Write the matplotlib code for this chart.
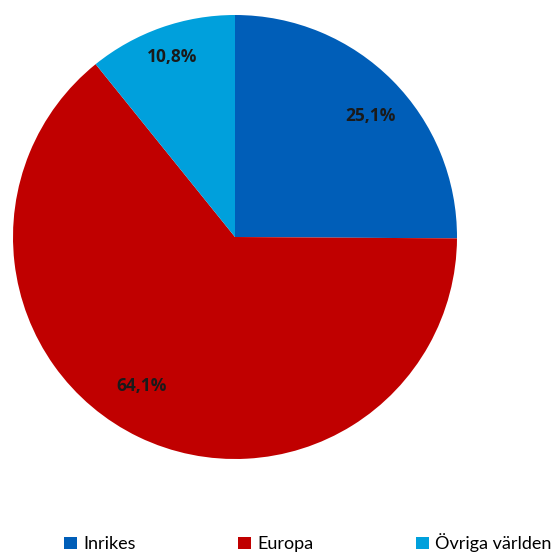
import matplotlib.pyplot as plt
from matplotlib.patches import Patch

labels = ["Inrikes", "Europa", "Övriga världen"]
shares = [25.1, 64.1, 10.8]
colors = ["#005EB8", "#C00000", "#00A0DC"]

plt.rcParams["font.family"] = ["Lato", "DejaVu Sans"]

fig = plt.figure(figsize=(5.58, 5.56), dpi=100)
ax = fig.add_axes([13 / 558, 97 / 556, 444 / 558, 444 / 556])

wedges, texts, autotexts = ax.pie(
    shares, colors=colors, startangle=90, counterclock=False,
    autopct=lambda p: f"{p:.1f}%".replace(".", ","), pctdistance=0.82,
    wedgeprops=dict(linewidth=0),
    textprops=dict(fontsize=12.5, fontweight="bold", color="#1a1a1a",
                   family=["Open Sans", "DejaVu Sans"]))
# label placement as in the original (Excel-style)
for t, pos in zip(autotexts, [(0.608, 0.545), (-0.419, -0.671), (-0.284, 0.811)]):
    t.set_position(pos)
ax.set_xlim(-1, 1)
ax.set_ylim(-1, 1)
ax.set_aspect("equal")

handles = [Patch(facecolor=c, edgecolor="none") for c in colors]
fig.legend(handles, labels, loc="center left", bbox_to_anchor=(64 / 558, 13 / 556),
           ncol=3, frameon=False, fontsize=13, handlelength=0.7, handleheight=0.7,
           handletextpad=0.35, columnspacing=5.7, borderpad=0, borderaxespad=0)

fig.savefig("out.png", dpi=100, facecolor="white")
